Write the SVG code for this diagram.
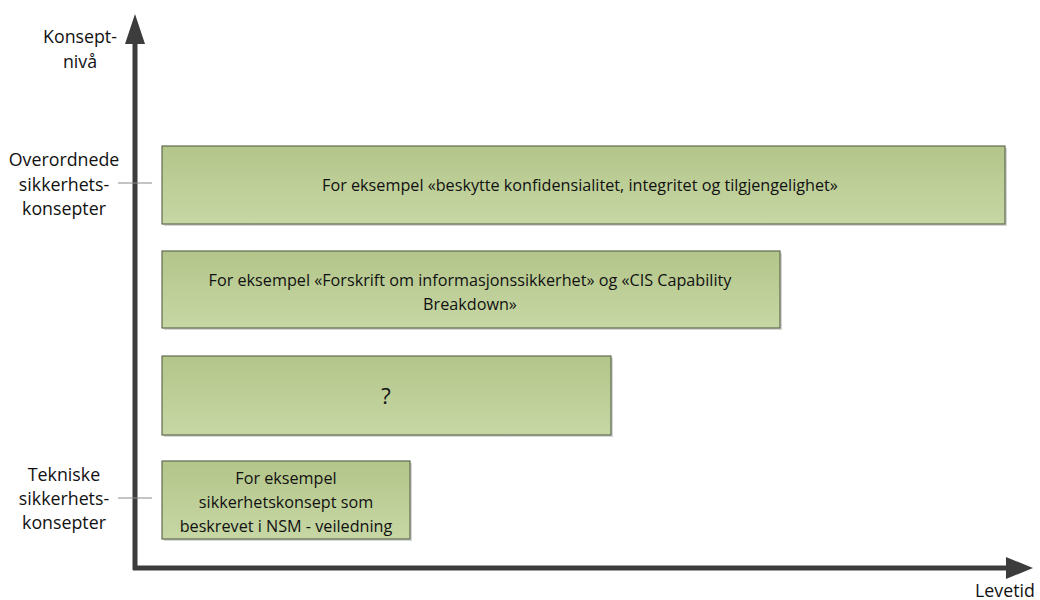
<svg xmlns="http://www.w3.org/2000/svg" width="1040" height="600" viewBox="0 0 1040 600">
<defs>
<linearGradient id="g" x1="0" y1="0" x2="0" y2="1">
<stop offset="0" stop-color="#b3c589"/>
<stop offset="1" stop-color="#c7d7a5"/>
</linearGradient>
<style>
.box{fill:url(#g);stroke:#5f6b4f;stroke-width:1.2}
.sh{fill:#d6d6d6}
.t{font-family:"Open Sans","Liberation Sans",sans-serif;font-size:16.2px;fill:#111;text-anchor:middle}
.l{font-family:"Open Sans","Liberation Sans",sans-serif;font-size:17.8px;fill:#111;text-anchor:middle}
.tick{stroke:#8a8a8a;stroke-width:1}
.ax{stroke:#3c3c3c;stroke-width:5;fill:none}
.ah{fill:#3c3c3c}
</style>
</defs>
<g id="connectors">
<line class="ax" x1="135" y1="40" x2="135" y2="570"/>
<polygon class="ah" points="135,14 125,44 145,44"/>
<line class="ax" x1="133" y1="568" x2="1010" y2="568"/>
<polygon class="ah" points="1033,568 1006,557 1006,579"/>
<line class="tick" x1="118" y1="183" x2="152" y2="183"/>
<line class="tick" x1="118" y1="498" x2="152" y2="498"/>
</g>
<g id="axis-labels">
<text class="l" x="80" y="43">Konsept-</text>
<text class="l" x="80" y="68">nivå</text>
<text class="l" x="1005" y="597">Levetid</text>
</g>
<g id="label-overordnede">
<text class="l" x="64" y="166">Overordnede</text>
<text class="l" x="64" y="191">sikkerhets-</text>
<text class="l" x="64" y="215">konsepter</text>
</g>
<g id="label-tekniske">
<text class="l" x="64" y="481">Tekniske</text>
<text class="l" x="64" y="505">sikkerhets-</text>
<text class="l" x="64" y="529">konsepter</text>
</g>
<g id="box1">
<rect class="sh" x="164" y="148" width="843" height="78"/>
<rect class="box" x="162" y="146" width="843" height="78"/>
<text class="t" x="580" y="191">For eksempel «beskytte konfidensialitet, integritet og tilgjengelighet»</text>
</g>
<g id="box2">
<rect class="sh" x="164" y="253" width="618" height="77"/>
<rect class="box" x="162" y="251" width="618" height="77"/>
<text class="t" x="470" y="286">For eksempel «Forskrift om informasjonssikkerhet» og «CIS Capability</text>
<text class="t" x="470" y="310">Breakdown»</text>
</g>
<g id="box3">
<rect class="sh" x="164" y="358" width="449" height="79"/>
<rect class="box" x="162" y="356" width="449" height="79"/>
<text class="t" x="386" y="404" style="font-size:22px">?</text>
</g>
<g id="box4">
<rect class="sh" x="164" y="463" width="248" height="78"/>
<rect class="box" x="162" y="461" width="248" height="78"/>
<text class="t" x="286" y="484">For eksempel</text>
<text class="t" x="286" y="508">sikkerhetskonsept som</text>
<text class="t" x="286" y="532">beskrevet i NSM - veiledning</text>
</g>
</svg>
